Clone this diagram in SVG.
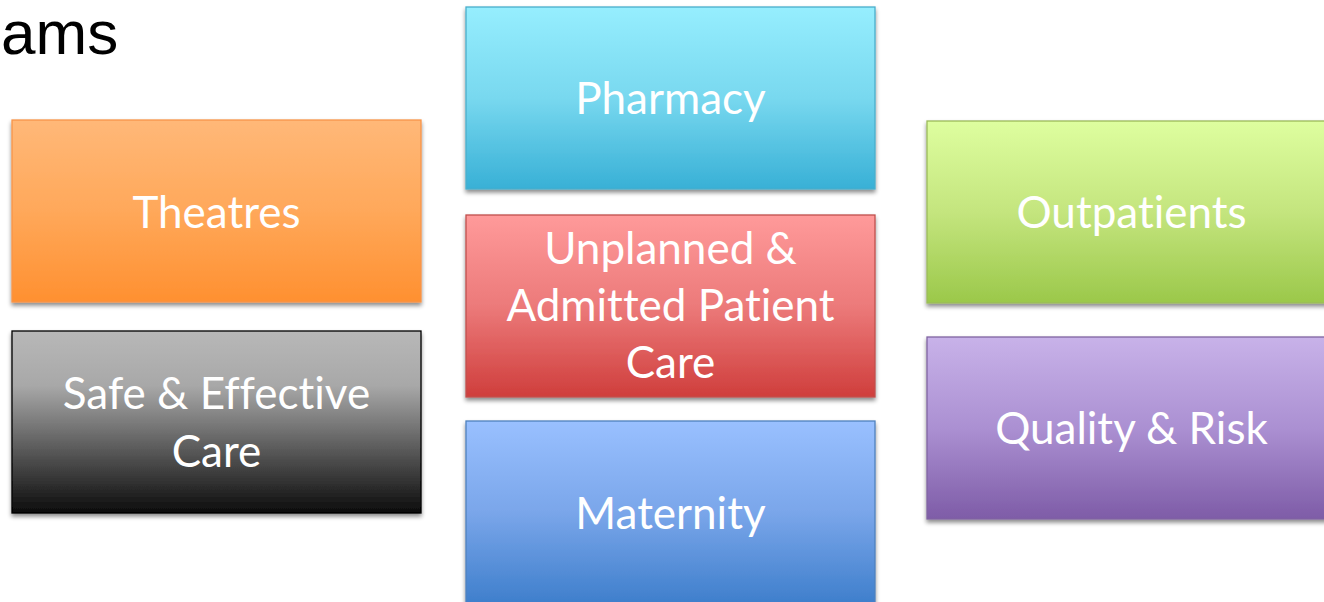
<svg xmlns="http://www.w3.org/2000/svg" width="1324" height="602" viewBox="0 0 1324 602">
  <defs>
    <filter id="shadow" x="-5%" y="-5%" width="110%" height="115%">
      <feDropShadow dx="0" dy="3" stdDeviation="2.2" flood-color="#000" flood-opacity="0.45"/>
    </filter>
    <linearGradient id="gCyan" x1="0" y1="0" x2="0" y2="1">
      <stop offset="0" stop-color="#96eefe"/>
      <stop offset="0.5" stop-color="#78d8ef"/>
      <stop offset="1" stop-color="#38b0d6"/>
    </linearGradient>
    <linearGradient id="gOrange" x1="0" y1="0" x2="0" y2="1">
      <stop offset="0" stop-color="#ffb878"/>
      <stop offset="0.5" stop-color="#ffa85a"/>
      <stop offset="1" stop-color="#ff9030"/>
    </linearGradient>
    <linearGradient id="gGrey" x1="0" y1="0" x2="0" y2="1">
      <stop offset="0" stop-color="#b8b8b8"/>
      <stop offset="0.3" stop-color="#a8a8a8"/>
      <stop offset="1" stop-color="#0c0c0c"/>
    </linearGradient>
    <linearGradient id="gRed" x1="0" y1="0" x2="0" y2="1">
      <stop offset="0" stop-color="#ff9a9a"/>
      <stop offset="0.5" stop-color="#ec7a7a"/>
      <stop offset="1" stop-color="#cf3e3c"/>
    </linearGradient>
    <linearGradient id="gBlue" x1="0" y1="0" x2="0" y2="1">
      <stop offset="0" stop-color="#99c0ff"/>
      <stop offset="0.5" stop-color="#7aa6ea"/>
      <stop offset="1" stop-color="#3f7fcc"/>
    </linearGradient>
    <linearGradient id="gGreen" x1="0" y1="0" x2="0" y2="1">
      <stop offset="0" stop-color="#defe9f"/>
      <stop offset="0.5" stop-color="#c4e57e"/>
      <stop offset="1" stop-color="#9bc84a"/>
    </linearGradient>
    <linearGradient id="gPurple" x1="0" y1="0" x2="0" y2="1">
      <stop offset="0" stop-color="#c8b2e9"/>
      <stop offset="0.5" stop-color="#ab90d2"/>
      <stop offset="1" stop-color="#7e5ca7"/>
    </linearGradient>
  </defs>
  <style>
    .box { filter: url(#shadow); stroke-width: 1.3; }
    .lbl { font-family: Lato, "Open Sans", "Noto Sans", sans-serif; font-size: 44px; fill: #ffffff; text-anchor: middle; font-variant-ligatures: none; }
    .title { font-family: "Liberation Sans", Arial, sans-serif; font-size: 62px; fill: #000000; }
  </style>

  <rect width="1324" height="602" fill="#ffffff"/>

  <text class="title" x="1" y="54">ams</text>

  <g id="connectors"/>

  <g id="pharmacy">
    <rect class="box" x="466" y="7" width="409" height="182" fill="url(#gCyan)" stroke="#4aaecb"/>
    <text class="lbl" x="670.5" y="114">Pharmacy</text>
  </g>

  <g id="theatres">
    <rect class="box" x="12" y="120" width="409" height="182" fill="url(#gOrange)" stroke="#f7944a"/>
    <text class="lbl" x="216.5" y="228">Theatres</text>
  </g>

  <g id="safe-effective-care">
    <rect class="box" x="12" y="331" width="409" height="182" fill="url(#gGrey)" stroke="#000000"/>
    <text class="lbl" x="216.5" y="409">Safe &amp; Effective</text>
    <text class="lbl" x="216.5" y="467">Care</text>
  </g>

  <g id="unplanned-admitted">
    <rect class="box" x="466" y="215" width="409" height="182" fill="url(#gRed)" stroke="#c0504d"/>
    <text class="lbl" x="670.5" y="264">Unplanned &amp;</text>
    <text class="lbl" x="670.5" y="321">Admitted Patient</text>
    <text class="lbl" x="670.5" y="378">Care</text>
  </g>

  <g id="maternity">
    <rect class="box" x="466" y="421" width="409" height="182" fill="url(#gBlue)" stroke="#4f81bd"/>
    <text class="lbl" x="670.5" y="529">Maternity</text>
  </g>

  <g id="outpatients">
    <rect class="box" x="927" y="121" width="409" height="182" fill="url(#gGreen)" stroke="#9bbb59"/>
    <text class="lbl" x="1131.5" y="228">Outpatients</text>
  </g>

  <g id="quality-risk">
    <rect class="box" x="927" y="337" width="409" height="182" fill="url(#gPurple)" stroke="#8064a2"/>
    <text class="lbl" x="1131.5" y="444">Quality &amp; Risk</text>
  </g>
</svg>
